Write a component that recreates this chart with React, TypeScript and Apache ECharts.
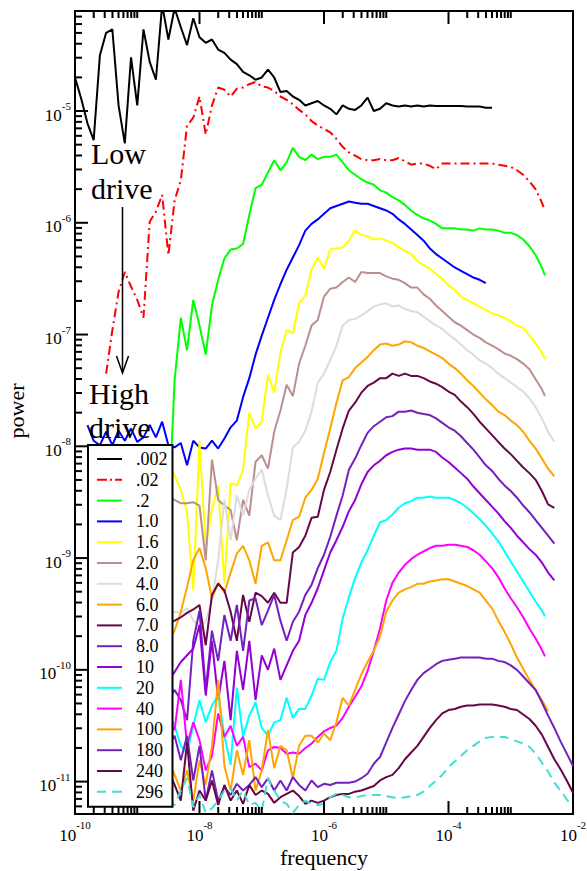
import React, { useEffect, useRef } from 'react';
import * as echarts from 'echarts';

// ---- axes (log10 units) ----
const X_MIN = -10;
const X_MAX = -2;
const Y_MIN = -11.29;
const Y_MAX = -4.105;
const X_TICK_LABELS = [-10, -8, -6, -4, -2];
const Y_TICK_LABELS = [-11, -10, -9, -8, -7, -6, -5];
const LOG_F_STEP = 0.1; // spectrum bins are evenly spaced in log10(frequency)

// ---- series ----
const NAMES = ['.002', '.02', '.2', '1.0', '1.6', '2.0', '4.0', '6.0', '7.0', '8.0', '10', '20', '40', '100', '180', '240', '296'];
const COLORS = ['#000000', '#ff0000', '#00ff00', '#0000ff', '#ffff00', '#bc8f8f', '#dcdcdc', '#ffa500', '#670748', '#7221bc', '#9400d3', '#00ffff', '#ff00ff', '#ffa500', '#7221bc', '#670748', '#40e0d0'];
const START_LOG_F = [-10, -9.5, -8.5, -9.8, -8.5, -8.5, -8.5, -8.5, -8.5, -8.5, -8.5, -8.5, -8.5, -8.5, -8.5, -8.5, -8.5];
const END_LOG_F: (number | null)[] = [null, -2.45, -2.45, null, -2.45, -2.45, null, null, null, null, null, -2.45, -2.45, null, null, null, null];

// log10(power) per bin
const P_002 = [-4.70, -4.89, -5.11, -5.26, -4.50, -4.30, -4.27, -4.95, -5.29, -4.52, -4.95, -4.27, -4.56, -4.72, -4.05, -4.36, -4.08, -4.25, -4.41, -4.17, -4.34, -4.39, -4.36, -4.45, -4.48, -4.54, -4.58, -4.65, -4.68, -4.72, -4.70, -4.63, -4.70, -4.83, -4.82, -4.87, -4.90, -4.95, -4.93, -4.91, -4.95, -4.98, -5.03, -4.95, -4.98, -4.99, -4.95, -4.88, -5.00, -4.98, -4.93, -4.95, -4.96, -4.95, -4.96, -4.95, -4.96, -4.95, -4.955, -4.955, -4.955, -4.955, -4.955, -4.96, -4.96, -4.96, -4.97, -4.97];
const P_02 = [-7.35, -6.96, -6.62, -6.44, -6.57, -6.69, -6.85, -5.99, -5.90, -5.75, -6.29, -5.80, -5.62, -5.13, -5.06, -4.87, -5.21, -4.95, -4.79, -4.81, -4.87, -4.80, -4.79, -4.76, -4.74, -4.78, -4.79, -4.82, -4.87, -4.90, -4.94, -4.99, -5.03, -5.09, -5.13, -5.16, -5.19, -5.25, -5.32, -5.37, -5.40, -5.43, -5.44, -5.44, -5.43, -5.44, -5.44, -5.42, -5.45, -5.48, -5.47, -5.47, -5.49, -5.52, -5.47, -5.47, -5.47, -5.47, -5.47, -5.47, -5.47, -5.47, -5.47, -5.48, -5.49, -5.50, -5.53, -5.57, -5.63, -5.70, -5.82, -5.89];
const P_2 = [-8.66, -7.41, -6.85, -7.14, -6.69, -6.92, -7.18, -6.74, -6.51, -6.32, -6.24, -6.23, -6.19, -5.93, -5.69, -5.66, -5.55, -5.44, -5.53, -5.46, -5.33, -5.41, -5.44, -5.39, -5.43, -5.41, -5.41, -5.39, -5.46, -5.53, -5.57, -5.61, -5.64, -5.66, -5.71, -5.73, -5.77, -5.80, -5.84, -5.89, -5.93, -5.96, -5.98, -6.01, -6.05, -6.05, -6.05, -6.06, -6.06, -6.07, -6.05, -6.06, -6.06, -6.07, -6.09, -6.09, -6.11, -6.15, -6.21, -6.29, -6.40, -6.47];
const P_10 = [-7.81, -7.95, -7.99, -7.87, -7.99, -7.86, -7.95, -7.84, -7.96, -7.92, -7.81, -7.92, -7.78, -7.99, -8.01, -7.97, -8.17, -7.95, -8.01, -8.02, -7.95, -8.02, -7.93, -7.83, -7.77, -7.56, -7.39, -7.18, -7.01, -6.85, -6.69, -6.55, -6.42, -6.31, -6.20, -6.07, -6.01, -5.97, -5.92, -5.87, -5.85, -5.83, -5.81, -5.82, -5.83, -5.83, -5.85, -5.87, -5.89, -5.92, -5.97, -6.01, -6.06, -6.11, -6.16, -6.23, -6.28, -6.32, -6.36, -6.40, -6.43, -6.46, -6.49, -6.51, -6.54];
const P_16 = [-8.17, -8.26, -8.39, -8.59, -9.29, -7.95, -8.89, -8.57, -8.35, -9.23, -8.33, -8.35, -8.21, -7.70, -7.84, -7.78, -7.36, -7.52, -7.16, -6.96, -6.99, -6.72, -6.65, -6.42, -6.31, -6.41, -6.24, -6.23, -6.22, -6.16, -6.07, -6.11, -6.12, -6.15, -6.14, -6.16, -6.18, -6.22, -6.25, -6.28, -6.34, -6.38, -6.41, -6.46, -6.50, -6.56, -6.60, -6.66, -6.69, -6.72, -6.75, -6.78, -6.81, -6.83, -6.85, -6.88, -6.92, -6.94, -7.01, -7.08, -7.16, -7.22];
const P_20 = [-8.46, -8.48, -8.51, -8.51, -8.50, -8.53, -9.02, -8.12, -8.48, -8.53, -8.57, -8.84, -8.48, -8.62, -8.14, -8.08, -8.20, -7.87, -7.68, -7.45, -7.55, -7.26, -7.10, -6.92, -6.87, -6.66, -6.59, -6.58, -6.53, -6.49, -6.53, -6.44, -6.45, -6.45, -6.45, -6.48, -6.50, -6.51, -6.54, -6.58, -6.58, -6.64, -6.68, -6.74, -6.79, -6.84, -6.89, -6.92, -6.96, -7.00, -7.03, -7.07, -7.10, -7.13, -7.17, -7.19, -7.22, -7.26, -7.31, -7.40, -7.49, -7.55];
const P_40 = [-9.49, -9.48, -9.49, -9.45, -9.56, -9.61, -9.56, -9.38, -9.02, -8.48, -8.84, -8.44, -8.62, -8.39, -8.29, -8.21, -8.44, -8.62, -8.66, -8.38, -8.01, -7.96, -7.86, -7.69, -7.43, -7.35, -7.23, -7.10, -6.92, -6.87, -6.86, -6.83, -6.79, -6.75, -6.73, -6.72, -6.75, -6.74, -6.77, -6.79, -6.80, -6.84, -6.88, -6.92, -6.95, -7.00, -7.04, -7.09, -7.14, -7.18, -7.23, -7.26, -7.30, -7.35, -7.39, -7.43, -7.47, -7.51, -7.57, -7.65, -7.75, -7.87, -7.96];
const P_60 = [-9.74, -9.65, -9.48, -9.26, -9.02, -8.91, -9.09, -9.36, -9.22, -9.31, -9.13, -8.96, -8.89, -9.02, -9.23, -8.89, -8.86, -9.02, -9.02, -8.84, -8.66, -8.63, -8.46, -8.39, -8.29, -8.06, -7.84, -7.61, -7.41, -7.38, -7.30, -7.25, -7.20, -7.14, -7.09, -7.08, -7.10, -7.09, -7.06, -7.07, -7.10, -7.12, -7.15, -7.18, -7.21, -7.26, -7.30, -7.35, -7.41, -7.46, -7.52, -7.58, -7.63, -7.69, -7.72, -7.77, -7.81, -7.87, -7.95, -8.02, -8.11, -8.20, -8.27];
const P_70 = [-9.57, -9.56, -9.53, -9.49, -9.46, -9.42, -9.78, -9.33, -9.23, -9.29, -9.48, -9.74, -9.33, -9.57, -9.31, -9.34, -9.40, -9.31, -9.40, -9.40, -8.95, -8.90, -8.80, -8.64, -8.63, -8.39, -8.23, -8.03, -7.84, -7.68, -7.61, -7.52, -7.46, -7.43, -7.39, -7.39, -7.35, -7.37, -7.35, -7.37, -7.37, -7.39, -7.42, -7.44, -7.47, -7.51, -7.54, -7.60, -7.65, -7.71, -7.78, -7.84, -7.90, -7.96, -8.02, -8.07, -8.13, -8.19, -8.24, -8.30, -8.40, -8.52, -8.55];
const P_80 = [-10.27, -10.18, -10.27, -10.45, -9.74, -9.47, -10.18, -9.65, -9.92, -9.51, -9.74, -9.42, -9.83, -9.38, -9.36, -9.60, -9.47, -9.33, -9.56, -9.74, -9.57, -9.48, -9.33, -9.24, -9.09, -8.97, -8.81, -8.62, -8.44, -8.21, -8.11, -7.99, -7.88, -7.82, -7.78, -7.74, -7.73, -7.69, -7.69, -7.68, -7.70, -7.71, -7.72, -7.75, -7.79, -7.83, -7.86, -7.91, -7.97, -8.03, -8.10, -8.17, -8.22, -8.29, -8.35, -8.40, -8.46, -8.53, -8.59, -8.66, -8.73, -8.80, -8.87];
const P_100 = [-10.09, -10.02, -9.93, -9.87, -9.81, -9.60, -10.23, -9.74, -10.27, -9.92, -10.45, -9.83, -10.18, -9.74, -10.27, -9.87, -10.00, -9.81, -10.09, -9.96, -9.83, -9.74, -9.51, -9.40, -9.27, -9.11, -8.95, -8.84, -8.72, -8.58, -8.48, -8.34, -8.23, -8.17, -8.13, -8.08, -8.05, -8.03, -8.02, -8.02, -8.03, -8.03, -8.03, -8.05, -8.10, -8.14, -8.19, -8.24, -8.29, -8.36, -8.42, -8.48, -8.54, -8.60, -8.67, -8.73, -8.80, -8.86, -8.92, -8.97, -9.04, -9.13, -9.20];
const P_200 = [-10.38, -10.50, -10.68, -10.74, -10.50, -10.27, -10.47, -10.32, -10.23, -10.59, -10.85, -10.16, -10.60, -10.41, -10.29, -10.52, -10.59, -10.47, -10.45, -10.25, -10.43, -10.35, -10.35, -10.23, -10.08, -10.09, -9.93, -9.83, -9.54, -9.35, -9.18, -9.04, -8.93, -8.80, -8.68, -8.66, -8.61, -8.55, -8.51, -8.49, -8.46, -8.46, -8.45, -8.46, -8.46, -8.46, -8.48, -8.51, -8.55, -8.60, -8.65, -8.71, -8.78, -8.85, -8.94, -9.03, -9.12, -9.21, -9.30, -9.39, -9.47, -9.52];
const P_400 = [-10.45, -10.54, -10.09, -10.68, -10.47, -10.63, -10.90, -10.77, -10.39, -10.60, -10.50, -10.68, -10.60, -10.87, -10.84, -10.90, -10.72, -10.69, -10.70, -10.75, -10.74, -10.75, -10.70, -10.66, -10.60, -10.55, -10.52, -10.50, -10.43, -10.33, -10.24, -10.15, -10.01, -9.83, -9.63, -9.38, -9.22, -9.13, -9.06, -9.01, -8.97, -8.94, -8.91, -8.89, -8.89, -8.88, -8.88, -8.89, -8.90, -8.93, -8.97, -9.03, -9.09, -9.17, -9.27, -9.36, -9.44, -9.53, -9.63, -9.72, -9.82, -9.88];
const P_1000 = [-10.81, -10.94, -11.08, -10.90, -11.17, -10.81, -11.03, -10.68, -10.09, -10.86, -11.08, -10.72, -10.94, -10.63, -11.08, -10.90, -10.54, -10.88, -10.68, -10.72, -10.97, -10.68, -10.59, -10.59, -10.65, -10.57, -10.63, -10.47, -10.25, -10.32, -10.18, -10.04, -9.93, -9.83, -9.70, -9.48, -9.38, -9.31, -9.28, -9.26, -9.23, -9.23, -9.21, -9.20, -9.19, -9.19, -9.21, -9.23, -9.25, -9.28, -9.31, -9.38, -9.45, -9.56, -9.66, -9.77, -9.89, -9.99, -10.09, -10.18, -10.27, -10.37];
const P_1800 = [-10.68, -10.59, -10.81, -10.59, -10.99, -10.68, -11.17, -10.90, -11.17, -11.05, -11.12, -11.02, -11.08, -11.03, -10.96, -11.05, -10.97, -11.08, -10.99, -11.08, -10.96, -11.03, -11.08, -10.99, -11.05, -11.02, -11.03, -11.01, -11.01, -11.01, -11.00, -10.97, -10.93, -10.84, -10.78, -10.65, -10.52, -10.40, -10.28, -10.18, -10.09, -10.03, -9.99, -9.95, -9.92, -9.91, -9.90, -9.89, -9.89, -9.89, -9.89, -9.90, -9.90, -9.92, -9.93, -9.96, -10.00, -10.06, -10.12, -10.18, -10.29, -10.41, -10.52, -10.64, -10.75, -10.86];
const P_2400 = [-10.90, -11.03, -11.17, -10.65, -11.26, -11.08, -11.17, -10.99, -11.21, -11.03, -11.17, -11.08, -11.20, -11.03, -11.12, -11.08, -11.11, -11.19, -11.14, -11.11, -11.08, -11.13, -11.20, -11.17, -11.19, -11.17, -11.14, -11.12, -11.11, -11.11, -11.09, -11.08, -11.06, -11.04, -10.99, -10.96, -10.94, -10.88, -10.80, -10.74, -10.68, -10.60, -10.52, -10.45, -10.39, -10.36, -10.35, -10.33, -10.32, -10.32, -10.31, -10.31, -10.31, -10.32, -10.33, -10.35, -10.36, -10.40, -10.44, -10.50, -10.58, -10.69, -10.80, -10.89, -10.99, -11.10];
const P_2960 = [-11.17, -11.21, -11.08, -10.97, -11.23, -11.12, -11.28, -11.24, -11.17, -11.08, -11.06, -11.17, -11.08, -11.21, -11.19, -11.26, -10.97, -11.08, -11.17, -11.20, -11.28, -11.21, -11.17, -11.20, -11.21, -11.20, -11.14, -11.11, -11.12, -11.14, -11.14, -11.13, -11.12, -11.12, -11.12, -11.13, -11.14, -11.15, -11.14, -11.13, -11.12, -11.09, -11.04, -10.99, -10.94, -10.87, -10.82, -10.77, -10.72, -10.68, -10.64, -10.61, -10.60, -10.60, -10.60, -10.62, -10.64, -10.66, -10.69, -10.75, -10.83, -10.91, -11.01, -11.08, -11.16, -11.23];

const POWERS = [P_002, P_02, P_2, P_10, P_16, P_20, P_40, P_60, P_70, P_80, P_100, P_200, P_400, P_1000, P_1800, P_2400, P_2960];

const SERIF = 'Liberation Serif';
const LABEL_SIZE = 17;
const EXP_SIZE = 11;

function seriesData(k: number) {
  const vals = POWERS[k];
  const s = START_LOG_F[k];
  const e = END_LOG_F[k];
  return vals.map((p, i) => {
    const x = e != null && i === vals.length - 1 ? e : +(s + i * LOG_F_STEP).toFixed(3);
    return [x, p];
  });
}

function lineType(k: number): any {
  if (NAMES[k] === '.02') return [9, 4, 2, 4];
  if (NAMES[k] === '296') return [9, 6];
  return 'solid';
}

function legendIcon(k: number): string {
  if (NAMES[k] === '.02') return 'path://M0,0h10v2h-10z M13,0h2v2h-2z M18,0h7v2h-7z';
  if (NAMES[k] === '296') return 'path://M0,0h9v2h-9z M15,0h10v2h-10z';
  return 'rect';
}

// approximate advance width of an exponent string in the serif face
function expWidth(s: string) {
  let w = 0;
  for (const ch of s) w += ch === '-' ? 0.333 * EXP_SIZE : 0.5 * EXP_SIZE;
  return w;
}

function txt(text: string, x: number, y: number, size: number, align: string) {
  return { type: 'text', x, y, style: { text, fontFamily: SERIF, fontSize: size, fill: '#000', align, verticalAlign: 'middle' } };
}

export default function App() {
  const ref = useRef<HTMLDivElement>(null);
  useEffect(() => {
    document.body.style.margin = '0';
    if (!ref.current) return;
    const chart = echarts.init(ref.current, undefined, { renderer: 'svg' });

    const ticks: number[][] = [];
    for (const v of Y_TICK_LABELS) ticks.push([X_MIN, v, 13, 0]);
    for (let d = -12; d <= -5; d++) {
      for (let k = 2; k <= 9; k++) {
        const v = d + Math.log10(k);
        if (v > Y_MIN && v < Y_MAX) ticks.push([X_MIN, v, 7, 0]);
      }
    }
    for (const v of X_TICK_LABELS) {
      ticks.push([v, Y_MIN, 13, 1]);
      ticks.push([v, Y_MAX, 13, 2]);
    }
    for (const m of X_TICK_LABELS.slice(0, -1)) {
      for (let k = 2; k <= 10; k++) {
        const v = m + Math.log10(k);
        ticks.push([v, Y_MIN, 7, 1]);
        ticks.push([v, Y_MAX, 7, 2]);
      }
    }

    const lineSeries = NAMES.map((name, k) => ({
      name,
      type: 'line',
      data: seriesData(k),
      showSymbol: false,
      symbol: 'none',
      clip: true,
      lineStyle: { color: COLORS[k], width: 2, type: lineType(k) },
      itemStyle: { color: COLORS[k] },
      z: 2,
    }));

    const option: any = {
      animation: false,
      backgroundColor: '#fff',
      textStyle: { fontFamily: SERIF },
      grid: { left: 75, right: 14, top: 11, bottom: 57, show: true, borderColor: '#000', borderWidth: 2, backgroundColor: 'transparent' },
      xAxis: {
        type: 'value', min: X_MIN, max: X_MAX, interval: 2,
        axisLine: { show: false }, axisTick: { show: false }, splitLine: { show: false }, axisLabel: { show: false },
      },
      yAxis: {
        type: 'value', min: Y_MIN, max: Y_MAX,
        axisLine: { show: false }, axisTick: { show: false }, splitLine: { show: false }, axisLabel: { show: false },
      },
      legend: {
        orient: 'vertical', left: 88, top: 445,
        itemWidth: 25, itemHeight: 2, itemGap: 2.8,
        padding: [5, 5, 6, 9],
        backgroundColor: '#fff', borderColor: '#000', borderWidth: 2,
        selectedMode: false,
        formatter: (name: string) => '\u00a0\u00a0' + name,
        textStyle: { fontFamily: SERIF, fontSize: 18, color: '#000' },
        data: NAMES.map((name, k) => ({ name, icon: legendIcon(k), itemStyle: { color: COLORS[k] } })),
      },
      series: [
        ...lineSeries,
        {
          type: 'custom', silent: true, clip: false, z: 5,
          data: ticks,
          encode: { x: 0, y: 1 },
          renderItem: (_p: any, api: any) => {
            const x = api.value(0), y = api.value(1), len = api.value(2), side = api.value(3);
            const c = api.coord([x, y]);
            let shape;
            if (side === 0) shape = { x1: c[0], y1: c[1], x2: c[0] + len, y2: c[1] };
            else if (side === 1) shape = { x1: c[0], y1: c[1], x2: c[0], y2: c[1] - len };
            else shape = { x1: c[0], y1: c[1], x2: c[0], y2: c[1] + len };
            return { type: 'line', shape, style: { stroke: '#000', lineWidth: 2 } };
          },
        },
        {
          // y tick labels 10^n
          type: 'custom', silent: true, clip: false, z: 5,
          data: Y_TICK_LABELS.map((v) => [X_MIN, v]),
          encode: { x: 0, y: 1 },
          renderItem: (_p: any, api: any) => {
            const v = api.value(1);
            const c = api.coord([api.value(0), v]);
            const exp = String(v);
            const split = c[0] - 4 - expWidth(exp);
            return {
              type: 'group',
              children: [txt('10', split, c[1] + 4, LABEL_SIZE, 'right'), txt(exp, split, c[1] - 5, EXP_SIZE, 'left')],
            };
          },
        },
        {
          // x tick labels 10^n
          type: 'custom', silent: true, clip: false, z: 5,
          data: X_TICK_LABELS.map((v) => [v, Y_MIN]),
          encode: { x: 0, y: 1 },
          renderItem: (_p: any, api: any) => {
            const v = api.value(0);
            const c = api.coord([v, api.value(1)]);
            const exp = String(v);
            const w10 = LABEL_SIZE;
            const start = c[0] - (w10 + expWidth(exp)) / 2;
            return {
              type: 'group',
              children: [txt('10', start, c[1] + 21, LABEL_SIZE, 'left'), txt(exp, start + w10, c[1] + 11, EXP_SIZE, 'left')],
            };
          },
        },
      ],
      graphic: [
        { type: 'text', x: 324, y: 857, z: 10, style: { text: 'frequency', fontFamily: SERIF, fontSize: 22, fill: '#000', align: 'center', verticalAlign: 'middle' } },
        { type: 'text', x: 16, y: 411, rotation: Math.PI / 2, z: 10, style: { text: 'power', fontFamily: SERIF, fontSize: 22, fill: '#000', align: 'center', verticalAlign: 'middle' } },
        { type: 'text', x: 91, y: 153, z: 10, style: { text: 'Low', fontFamily: SERIF, fontSize: 30, fill: '#000', align: 'left', verticalAlign: 'middle' } },
        { type: 'text', x: 91, y: 188, z: 10, style: { text: 'drive', fontFamily: SERIF, fontSize: 30, fill: '#000', align: 'left', verticalAlign: 'middle' } },
        { type: 'text', x: 89, y: 393, z: 10, style: { text: 'High', fontFamily: SERIF, fontSize: 30, fill: '#000', align: 'left', verticalAlign: 'middle' } },
        { type: 'text', x: 89, y: 427, z: 10, style: { text: 'drive', fontFamily: SERIF, fontSize: 30, fill: '#000', align: 'left', verticalAlign: 'middle' } },
        { type: 'line', z: 10, shape: { x1: 122.5, y1: 207, x2: 122.5, y2: 372 }, style: { stroke: '#000', lineWidth: 1.5 } },
        { type: 'polyline', z: 10, shape: { points: [[116.5, 356], [122.5, 373], [128.5, 356]] }, style: { stroke: '#000', lineWidth: 1.5, fill: 'none' } },
      ],
    };
    chart.setOption(option);
    return () => chart.dispose();
  }, []);
  return <div ref={ref} style={{ width: 587, height: 871 }} />;
}
